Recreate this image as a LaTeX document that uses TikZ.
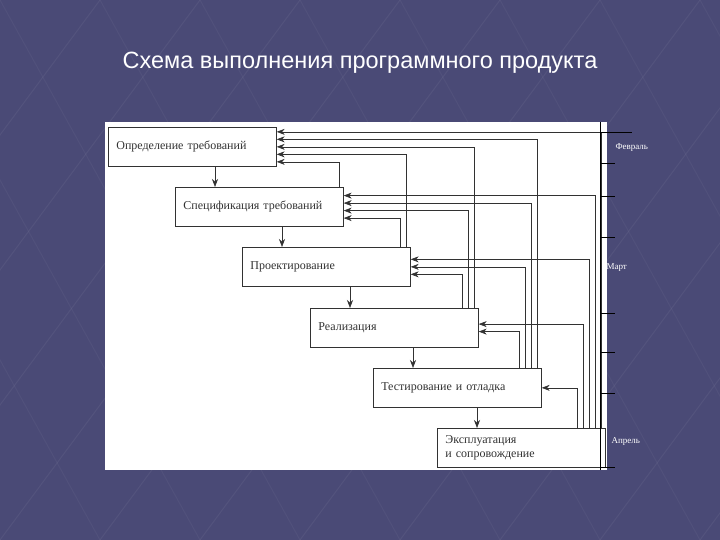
\documentclass[tikz,border=0pt]{standalone}
\usepackage{fontspec}
\setmainfont{Liberation Serif}
\newfontfamily\titlefont{Liberation Sans}
\usetikzlibrary{arrows.meta,calc}
\definecolor{bgc}{RGB}{74,74,118}
\definecolor{ink}{RGB}{50,50,50}
\begin{document}
\begin{tikzpicture}[x=1pt,y=-1pt,
  box/.style={draw=ink,line width=0.7pt,fill=white,anchor=north west,minimum width=168pt,minimum height=39pt,
    text width=152pt,align=left,inner xsep=8pt,font=\fontsize{12}{14}\selectfont,text=ink},
  fb/.style={draw=ink,line width=0.6pt,-{Stealth[length=8pt,width=6pt]}},
  tick/.style={draw=black,line width=0.7pt},
  lab/.style={text=white,font=\fontsize{9}{10}\selectfont}]
\useasboundingbox (0,0) rectangle (720,540);
\fill[bgc] (0,0) rectangle (720,540);
\foreach \a in {-400,-300,...,700}{
  \draw[white,opacity=0.05,line width=1pt] (\a,540) -- (\a+400,0);
  \draw[white,opacity=0.04,line width=1pt] (\a,0) -- (\a+300,540);
}
\node[text=white,font=\titlefont\fontsize{23.5}{26}\selectfont] (title) at (360,63) {Схема выполнения программного продукта};
\fill[white] (105,122) rectangle (607,470);
\node[box] (b1) at (108,127) {Определение требований};
\node[box] (b2) at (175,187) {Спецификация требований};
\node[box] (b3) at (242,247) {Проектирование};
\node[box] (b4) at (310,308) {Реализация};
\node[box] (b5) at (373,368) {Тестирование и отладка};
\node[box] (b6) at (437,428) {Эксплуатация\\и сопровождение};
\foreach \i [evaluate=\i as \p using int(\i-1)] in {2,...,6}{
  \draw[fb] (b\p.south west -| {$(b\i.north west)+(40,0)$}) -- ($(b\i.north west)+(40,0)$);
}
\foreach \i in {2,...,6}{
  \pgfmathtruncatemacro{\last}{\i-1}
  \foreach \j in {1,...,\last}{
    \pgfmathsetmacro{\xo}{4+6*(\j-1)}
    \pgfmathsetmacro{\yo}{(5-\j)*3.75-(\i-\j-1)*7.5}
    \draw[fb] ([xshift=-\xo pt]b\i.north east) |- ([yshift=-\yo pt]b\j.east);
  }
}
\coordinate (s0) at (600,122);
\coordinate (s1) at (600,470);
\draw[tick] (s0) -- (s1);
\foreach \y in {163,196,237,313,352,393,467}{\draw[tick] (600,\y) -- (615,\y);}
\draw[tick] (600,132) -- (632,132);
\node[lab,anchor=west] (feb) at (612,148) {Февраль};
\node[lab,anchor=west] (mar) at (603,268) {Март};
\node[lab,anchor=west] (apr) at (608,441) {Апрель};
\end{tikzpicture}
\end{document}
